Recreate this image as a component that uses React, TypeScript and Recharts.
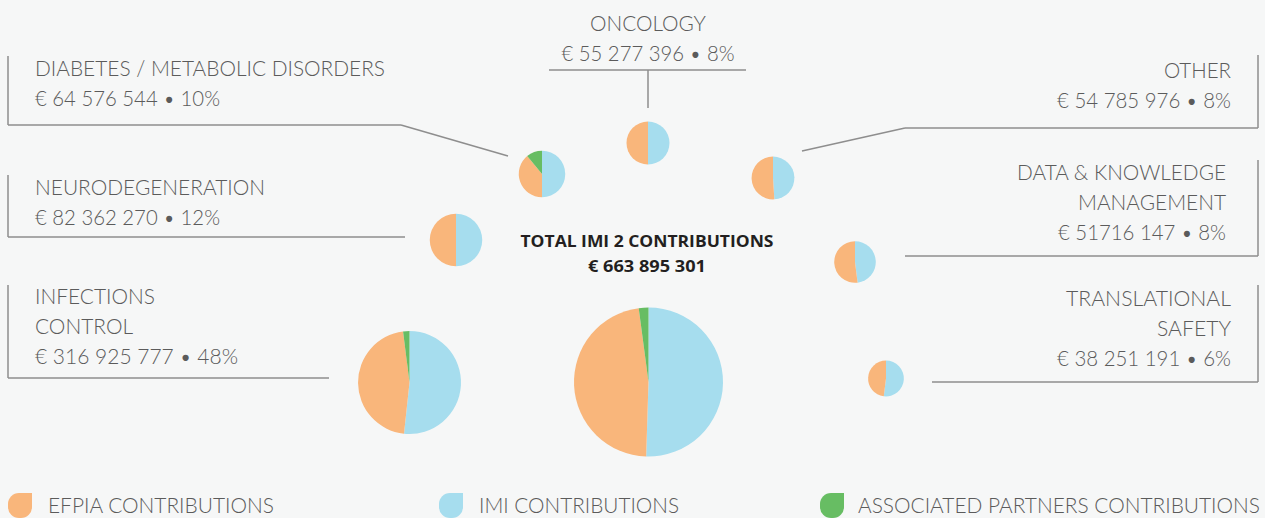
import React from "react";
import { PieChart, Pie, Cell } from "recharts";

// ---------- data ----------
const categories: string[][] = [
  ["ONCOLOGY"],
  ["DIABETES / METABOLIC DISORDERS"],
  ["OTHER"],
  ["NEURODEGENERATION"],
  ["DATA & KNOWLEDGE", "MANAGEMENT"],
  ["INFECTIONS", "CONTROL"],
  ["TRANSLATIONAL", "SAFETY"],
  ["TOTAL IMI 2 CONTRIBUTIONS"],
];
const amounts = [55277396, 64576544, 54785976, 82362270, 51716147, 316925777, 38251191, 663895301];
const amountLabels = [
  "€ 55 277 396 • 8%",
  "€ 64 576 544 • 10%",
  "€ 54 785 976 • 8%",
  "€ 82 362 270 • 12%",
  "€ 51716 147 • 8%",
  "€ 316 925 777 •  48%",
  "€ 38 251 191 • 6%",
  "€ 663 895 301",
];
const seriesNames = ["IMI CONTRIBUTIONS", "EFPIA CONTRIBUTIONS", "ASSOCIATED PARTNERS CONTRIBUTIONS"];
const imiShares = [50, 50, 49, 50, 48, 51.7, 52, 50.5];
const efpiaShares = [50, 39, 51, 50, 52, 46.3, 48, 47.4];
const apShares = [0, 11, 0, 0, 0, 2, 0, 2.1];
const legendOrder = ["EFPIA CONTRIBUTIONS", "IMI CONTRIBUTIONS", "ASSOCIATED PARTNERS CONTRIBUTIONS"];

// ---------- styles / layout ----------
const W = 1265;
const H = 518;
const BG = "#f6f7f7";
const COLORS: Record<string, string> = {
  "IMI CONTRIBUTIONS": "#a6ddee",
  "EFPIA CONTRIBUTIONS": "#f9b67b",
  "ASSOCIATED PARTNERS CONTRIBUTIONS": "#67bd63",
};
const TEXT = "#5b5b5b";
const LINE = "#8e8e8e";
const FONT = "Lato, 'Open Sans', sans-serif";
const MAX_R = 74.5;

const centers: [number, number][] = [
  [648, 143],
  [542, 174],
  [773, 178],
  [456, 240],
  [855, 262],
  [409.5, 382.5],
  [886, 378.5],
  [648.5, 382],
];

type LabelSpec = {
  x: number;
  anchor: "start" | "middle" | "end";
  baselines: number[];
  widths: number[];
  lines: [number, number, number, number][];
};

const labels: LabelSpec[] = [
  { x: 648, anchor: "middle", baselines: [31, 61], widths: [116, 173], lines: [[549, 70, 746, 70], [648, 70, 648, 108]] },
  { x: 35, anchor: "start", baselines: [76, 106], widths: [350, 185], lines: [[8, 56, 8, 125], [8, 125, 401, 125], [401, 125, 508, 156]] },
  { x: 1231, anchor: "end", baselines: [78, 108], widths: [67, 174], lines: [[1258, 55, 1258, 128], [1258, 128, 905, 128], [905, 128, 802, 151]] },
  { x: 35, anchor: "start", baselines: [195, 225], widths: [230, 185], lines: [[8, 175, 8, 237], [8, 237, 405, 237]] },
  { x: 1226, anchor: "end", baselines: [180, 210, 240], widths: [209, 148, 168], lines: [[1258, 160, 1258, 256], [1258, 256, 905, 256]] },
  { x: 35, anchor: "start", baselines: [304, 334, 364], widths: [120, 98, 203], lines: [[8, 285, 8, 378], [8, 378, 329, 378]] },
  { x: 1231, anchor: "end", baselines: [306, 336, 366], widths: [165, 74, 174], lines: [[1258, 285, 1258, 382], [1258, 382, 932, 382]] },
  { x: 647, anchor: "middle", baselines: [247, 272], widths: [253, 118], lines: [] },
];

const legendPos = [
  { ix: 8, tx: 48, w: 226 },
  { ix: 439, tx: 479, w: 200 },
  { ix: 820, tx: 858, w: 402 },
];

function leafPath(x: number, y: number, w: number, h: number, r: number) {
  return `M ${x + r} ${y} L ${x + w} ${y} L ${x + w} ${y + h - r} A ${r} ${r} 0 0 1 ${x + w - r} ${y + h} L ${x + r} ${y + h} A ${r} ${r} 0 0 1 ${x} ${y + h - r} L ${x} ${y + r} A ${r} ${r} 0 0 1 ${x + r} ${y} Z`;
}

export default function App() {
  const total = amounts[amounts.length - 1];
  const pies = amounts.map((a, i) => ({
    r: MAX_R * Math.sqrt(a / total),
    data: [
      { name: seriesNames[0], value: imiShares[i] },
      { name: seriesNames[1], value: efpiaShares[i] },
      { name: seriesNames[2], value: apShares[i] },
    ].filter((d) => d.value > 0),
  }));

  return (
    <div style={{ position: "absolute", left: 0, top: 0, width: W, height: H, background: BG, overflow: "hidden" }}>
      <PieChart width={W} height={H} margin={{ top: 0, right: 0, bottom: 0, left: 0 }}>
        {pies.map((p, i) => (
          <Pie
            key={i}
            data={p.data}
            dataKey="value"
            nameKey="name"
            cx={centers[i][0]}
            cy={centers[i][1]}
            innerRadius={0}
            outerRadius={p.r}
            startAngle={90}
            endAngle={-270}
            stroke="none"
            isAnimationActive={false}
          >
            {p.data.map((d, j) => (
              <Cell key={j} fill={COLORS[d.name]} />
            ))}
          </Pie>
        ))}
      </PieChart>
      <svg width={W} height={H} style={{ position: "absolute", left: 0, top: 0, pointerEvents: "none" }}>
        {labels.map((l, i) => {
          const isTotal = i === labels.length - 1;
          const texts = [...categories[i], amountLabels[i]];
          return (
            <g key={i}>
              {l.lines.map((ln, k) => (
                <line key={k} x1={ln[0]} y1={ln[1]} x2={ln[2]} y2={ln[3]} stroke={LINE} strokeWidth={1.5} />
              ))}
              {texts.map((t, k) => (
                <text
                  key={k}
                  x={l.x}
                  y={l.baselines[k]}
                  textAnchor={l.anchor}
                  fontFamily={isTotal ? "'Open Sans', Lato, sans-serif" : FONT}
                  fontWeight={isTotal ? 700 : 300}
                  fontSize={isTotal ? 16 : 21}
                  fill={isTotal ? "#231f20" : TEXT}
                  textLength={l.widths[k]}
                  lengthAdjust="spacingAndGlyphs"
                >
                  {t}
                </text>
              ))}
            </g>
          );
        })}
        {legendOrder.map((name, i) => (
          <g key={name}>
            <path d={leafPath(legendPos[i].ix, 493, 24, 25, 11)} fill={COLORS[name]} />
            <text
              x={legendPos[i].tx}
              y={513}
              fontFamily={FONT}
              fontWeight={300}
              fontSize={21}
              fill={TEXT}
              textLength={legendPos[i].w}
              lengthAdjust="spacingAndGlyphs"
            >
              {name}
            </text>
          </g>
        ))}
      </svg>
    </div>
  );
}
